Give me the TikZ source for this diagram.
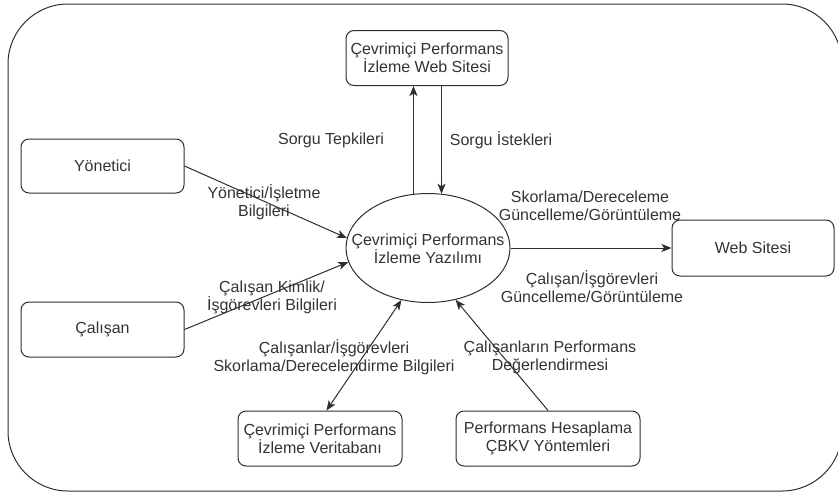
\documentclass[tikz,border=0pt]{standalone}
\usepackage{fontspec}
\setmainfont{Liberation Sans}
\usetikzlibrary{arrows.meta,shapes.geometric,calc}
\definecolor{ln}{HTML}{2E2E2E}
\definecolor{tx}{HTML}{333333}
\begin{document}
\begin{tikzpicture}[x=1pt,y=-1pt,
  every node/.style={font=\fontsize{16}{18}\selectfont, text=tx},
  boxnode/.style={draw=ln, line width=1pt, rounded corners=8pt, minimum height=55pt, align=center, inner sep=2pt},
  lbl/.style={align=center, inner sep=0pt},
  arr/.style={draw=ln, line width=1pt, -{Stealth[length=10pt,width=8pt,inset=2.5pt]}},
  darr/.style={draw=ln, line width=1pt, {Stealth[length=10pt,width=8pt,inset=2.5pt]}-{Stealth[length=10pt,width=8pt,inset=2.5pt]}}
]
\useasboundingbox (0,0) rectangle (838,493);
\begin{scope}
\clip (0,0) rectangle (838,493);
\draw[ln, line width=1pt, rounded corners=60pt] (8,4) rectangle (842,491);
\end{scope}

% nodes
\node[boxnode, minimum width=162pt] (top) at (427,58) {Çevrimiçi Performans\\İzleme Web Sitesi};
\node[boxnode, minimum width=163pt, minimum height=54pt] (yon) at (102.5,166) {Yönetici};
\node[boxnode, minimum width=163pt] (cal) at (102.5,329.5) {Çalışan};
\node[boxnode, minimum width=162pt, minimum height=56pt] (web) at (753,248) {Web Sitesi};
\node[boxnode, minimum width=164pt] (db) at (320,438.5) {Çevrimiçi Performans\\İzleme Veritabanı};
\node[boxnode, minimum width=184pt] (cbkv) at (548,438.5) {Performans Hesaplama\\ÇBKV Yöntemleri};

\node[ellipse, draw=ln, line width=1pt, minimum width=164pt, minimum height=109pt, inner sep=0pt] (ell) at (428,248) {};
\node[lbl] (elltxt) at (428,249) {Çevrimiçi Performans\\İzleme Yazılımı};

% connectors
\draw[arr] (ell.105) -- (ell.105 |- top.south);
\draw[arr] (ell.76 |- top.south) -- (ell.76);
\draw[arr] (yon.east) -- (ell.173);
\draw[arr] (cal.east) -- (ell.190);
\draw[arr] (ell.east) -- (web.west);
\draw[darr] (db.77) -- (ell.243);
\draw[arr] (cbkv.north) -- (ell.298);

% labels
\node[lbl] (l1) at (331,140) {Sorgu Tepkileri};
\node[lbl] (l2) at (501,140) {Sorgu İstekleri};
\node[lbl] (l3) at (264,202) {Yönetici/İşletme\\Bilgileri};
\node[lbl] (l4) at (272,297) {Çalışan Kimlik/\\İşgörevleri Bilgileri};
\node[lbl] (l5) at (590,206) {Skorlama/Dereceleme\\Güncelleme/Görüntüleme};
\node[lbl] (l6) at (592,287) {Çalışan/İşgörevleri\\Güncelleme/Görüntüleme};
\node[lbl] (l7) at (334,357) {Çalışanlar/İşgörevleri\\Skorlama/Derecelendirme Bilgileri};
\node[lbl] (l8) at (550,357) {Çalışanların Performans\\Değerlendirmesi};
\end{tikzpicture}
\end{document}
